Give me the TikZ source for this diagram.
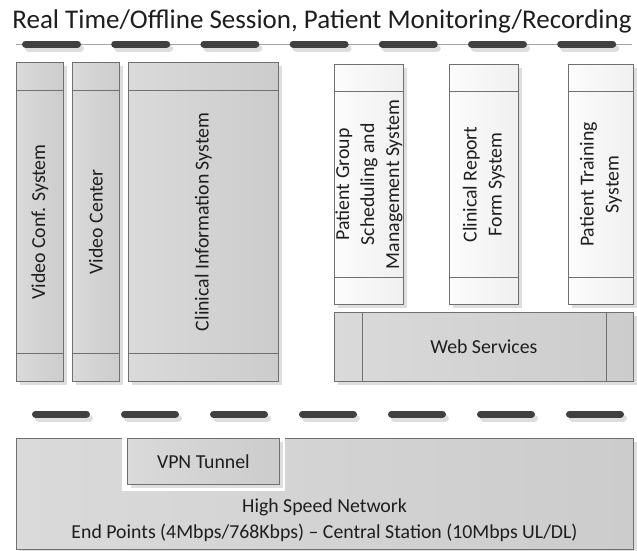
\documentclass[tikz,border=0pt]{standalone}
\usepackage{fontspec}
\setmainfont{Carlito}
\usetikzlibrary{shadows}
\definecolor{bordc}{RGB}{112,112,112}
\definecolor{dashc}{RGB}{64,64,64}
\definecolor{shadc}{RGB}{222,222,222}
\definecolor{gfillL}{RGB}{218,218,218}
\definecolor{gfillR}{RGB}{204,204,204}
\definecolor{wfillL}{RGB}{252,252,252}
\definecolor{wfillR}{RGB}{240,240,240}
\definecolor{txtc}{RGB}{30,30,30}
\tikzset{
  boxbase/.style={draw=bordc, line width=0.8pt, inner sep=0pt, anchor=north west,
    drop shadow={shadow xshift=4pt, shadow yshift=-4pt, fill=shadc, opacity=1}},
  gbox/.style={boxbase, left color=gfillL, right color=gfillR},
  wbox/.style={boxbase, left color=wfillL, right color=wfillR},
  divline/.style={draw=bordc, line width=0.8pt},
  lbl/.style={font=\fontsize{19.8}{25}\selectfont, text=txtc, align=center},
  vlbl/.style={lbl, rotate=90},
  dashbar/.style={line width=7pt, line cap=round, draw=dashc},
  dashshadow/.style={line width=7pt, line cap=round, draw=shadc},
}
\begin{document}
\begin{tikzpicture}[x=1pt,y=-1pt]
\useasboundingbox (0,0) rectangle (637,550);

% title
\node[font=\fontsize{27}{32}\selectfont, text=txtc] (title) at (322,21) {Real Time/Offline Session, Patient Monitoring/Recording};

% top dashed separator
\draw[draw=gray!70, line width=0.8pt] (16,44) -- (632,44);
\foreach \i in {0,...,6} {
  \draw[dashshadow] ({22+89.2*\i+3.5+3},48) -- ({22+89.2*\i+59-3.5+3},48);
}
\foreach \i in {0,...,6} {
  \draw[dashbar] ({22+89.2*\i+3.5},44) -- ({22+89.2*\i+59-3.5},44);
}

% left gray boxes
\node[gbox, minimum width=47, minimum height=319] (vcs) at (16,62) {};
\node[gbox, minimum width=47, minimum height=319] (vc) at (72,62) {};
\node[gbox, minimum width=150, minimum height=319] (cis) at (128,62) {};
\foreach \b in {vcs,vc,cis} {
  \draw[divline] ([yshift=-28pt]\b.north west) -- ([yshift=-28pt]\b.north east);
  \draw[divline] ([yshift=28pt]\b.south west) -- ([yshift=28pt]\b.south east);
}
\node[vlbl] (vcsl) at (vcs.center) {Video Conf. System};
\node[vlbl] (vcl) at (vc.center) {Video Center};
\node[vlbl] (cisl) at (cis.center) {Clinical Information System};

% right light boxes
\node[wbox, minimum width=69, minimum height=240] (pg) at (334,64) {};
\node[wbox, minimum width=69, minimum height=240] (crf) at (449,64) {};
\node[wbox, minimum width=65, minimum height=240] (pt) at (568,64) {};
\foreach \b in {pg,crf,pt} {
  \draw[divline] ([yshift=-27pt]\b.north west) -- ([yshift=-27pt]\b.north east);
  \draw[divline] ([yshift=27pt]\b.south west) -- ([yshift=27pt]\b.south east);
}
\node[vlbl] (pgl) at (pg.center) {Patient Group\\Scheduling and\\Management System};
\node[vlbl] (crfl) at (crf.center) {Clinical Report\\Form System};
\node[vlbl] (ptl) at (pt.center) {Patient Training\\System};

% web services
\node[gbox, minimum width=299, minimum height=69] (ws) at (334,312) {};
\draw[divline] ([xshift=28pt]ws.north west) -- ([xshift=28pt]ws.south west);
\draw[divline] ([xshift=-27pt]ws.north east) -- ([xshift=-27pt]ws.south east);
\node[lbl] (wsl) at (ws.center) {Web Services};

% bottom dashed separator
\foreach \i in {0,...,6} {
  \draw[dashshadow] ({32+89*\i+3.5+3},418) -- ({32+89*\i+58-3.5+3},418);
}
\foreach \i in {0,...,6} {
  \draw[dashbar] ({32+89*\i+3.5},414) -- ({32+89*\i+58-3.5},414);
}

% network
\node[gbox, minimum width=617, minimum height=111] (net) at (16,438) {};
\fill[white] (122,436.5) rectangle (285,491);
\node[gbox, drop shadow={opacity=0}, minimum width=152, minimum height=46] (vpn) at (127,438) {};
\node[lbl] (vpnl) at (vpn.center) {VPN Tunnel};
\node[lbl, font=\fontsize{19.8}{26}\selectfont] (netl) at (324.5,520) {High Speed Network\\End Points (4Mbps/768Kbps) – Central Station (10Mbps UL/DL)};
\end{tikzpicture}
\end{document}
